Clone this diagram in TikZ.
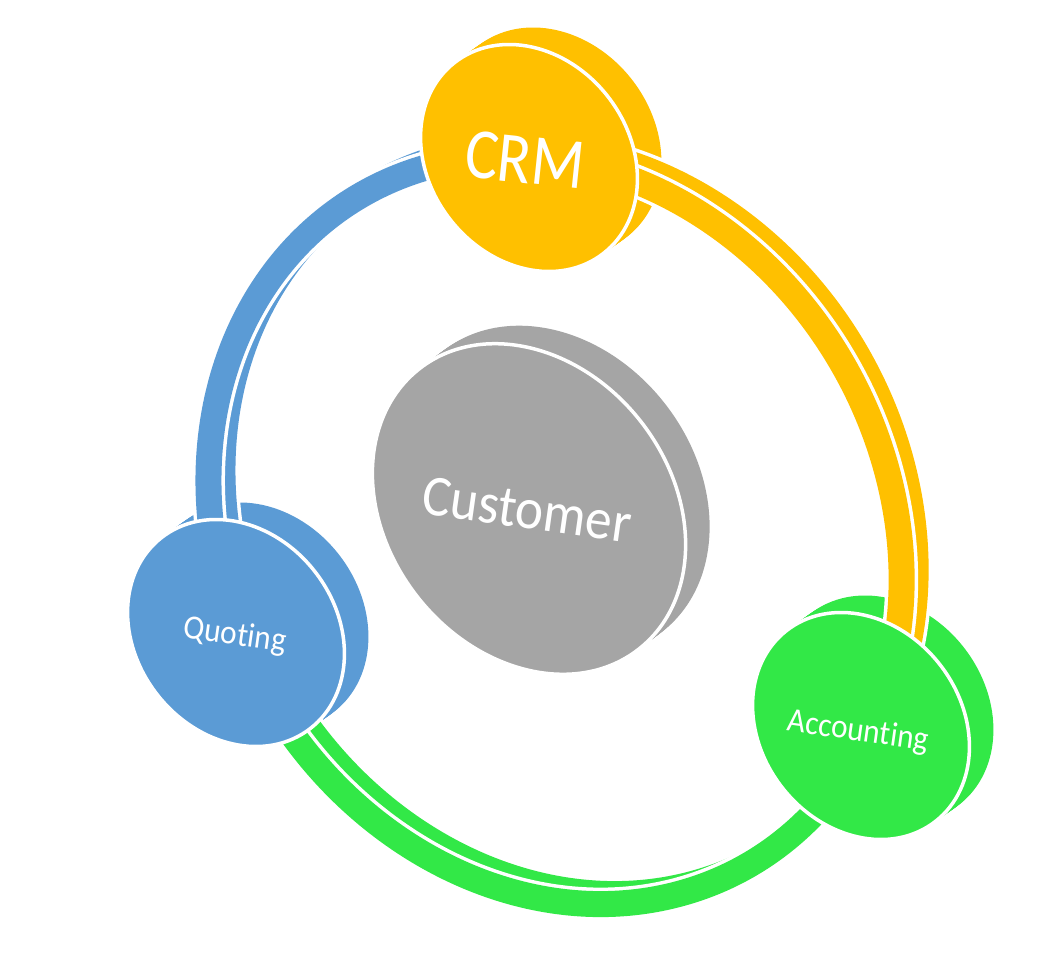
\documentclass[tikz,border=0pt]{standalone}
\usepackage{fontspec}
\setmainfont{Carlito}[Ligatures={NoCommon}]
\definecolor{crmc}{HTML}{FFC000}
\definecolor{quotc}{HTML}{5B9BD5}
\definecolor{acctc}{HTML}{32E847}
\definecolor{custc}{HTML}{A5A5A5}
\begin{document}
\begin{tikzpicture}[x=1pt,y=1pt,
  lbl/.style={text=white, inner sep=0pt},
  bandback/.style={line width=26},
  bandwhite/.style={white, line width=33},
  frontdisc/.style={draw=white, line width=3.5},
]
\useasboundingbox (0,0) rectangle (1045,-972);
\fill[white] (0,0) rectangle (1045,-972);

% ---------- extruded sides of the three ring discs ----------
\foreach \cx/\cy/\col in {529/-158/crmc, 236/-633/quotc, 861/-726/acctc}{
  \foreach \k in {0,...,14}{
    \fill[\col] (\cx+24*\k/14, \cy+17*\k/14) ellipse [x radius=121, y radius=100, rotate=-52];
  }
}

% ---------- ring arcs: back faces ----------
\begin{scope}[shift={(569,-520)}, rotate=-60]
  \draw[bandwhite] (150.4:387 and 332) arc [start angle=150.4, end angle=259.5, x radius=387, y radius=332];
  \draw[bandwhite] (259.5:387 and 332) arc [start angle=259.5, end angle=391.1, x radius=387, y radius=332];
  \draw[bandwhite] (31.1:387 and 332) arc [start angle=31.1, end angle=150.4, x radius=387, y radius=332];
  \draw[bandback, quotc] (150.4:387 and 332) arc [start angle=150.4, end angle=259.5, x radius=387, y radius=332];
  \draw[bandback, acctc] (259.5:387 and 332) arc [start angle=259.5, end angle=391.1, x radius=387, y radius=332];
  \draw[bandback, crmc] (31.1:387 and 332) arc [start angle=31.1, end angle=150.4, x radius=387, y radius=332];
\end{scope}

% ---------- ring arcs: front faces ----------
\begin{scope}[shift={(555,-530)}, rotate=-60]
  \coordinate (rcrm) at (150.4:387 and 332);
  \coordinate (rquot) at (259.5:387 and 332);
  \coordinate (racct) at (31.1:387 and 332);
  \draw[bandwhite] (rcrm) arc [start angle=150.4, end angle=259.5, x radius=387, y radius=332];
  \draw[bandwhite] (rquot) arc [start angle=259.5, end angle=391.1, x radius=387, y radius=332];
  \draw[bandwhite] (racct) arc [start angle=31.1, end angle=150.4, x radius=387, y radius=332];
  \draw[bandback, quotc] (rcrm) arc [start angle=150.4, end angle=259.5, x radius=387, y radius=332];
  \draw[bandback, acctc] (rquot) arc [start angle=259.5, end angle=391.1, x radius=387, y radius=332];
  \draw[bandback, crmc] (racct) arc [start angle=31.1, end angle=150.4, x radius=387, y radius=332];
\end{scope}

% ---------- front faces of ring discs ----------
\filldraw[frontdisc, fill=crmc] (529,-158) ellipse [x radius=121, y radius=100, rotate=-52];
\filldraw[frontdisc, fill=quotc] (236,-633) ellipse [x radius=121, y radius=100, rotate=-52];
\filldraw[frontdisc, fill=acctc] (861,-726) ellipse [x radius=121, y radius=100, rotate=-52];

% ---------- centre disc ----------
\foreach \k in {0,...,16}{
  \fill[custc] (529+24*\k/16, -509+18*\k/16) ellipse [x radius=178, y radius=142, rotate=-52];
}
\filldraw[frontdisc, fill=custc] (529,-509) ellipse [x radius=178, y radius=142, rotate=-52];

% ---------- labels ----------
\node[lbl, font=\fontsize{72}{72}\selectfont, rotate=-6, xscale=.86] (crm) at (525,-160) {CRM};
\node[lbl, font=\fontsize{58}{58}\selectfont, rotate=-8, xscale=.92] (cust) at (527,-510) {Customer};
\node[lbl, font=\fontsize{34}{34}\selectfont, rotate=-8, xscale=.92] (quot) at (235,-636) {Quoting};
\node[lbl, font=\fontsize{34}{34}\selectfont, rotate=-8, xscale=.92] (acct) at (858,-732) {Accounting};
\end{tikzpicture}
\end{document}
